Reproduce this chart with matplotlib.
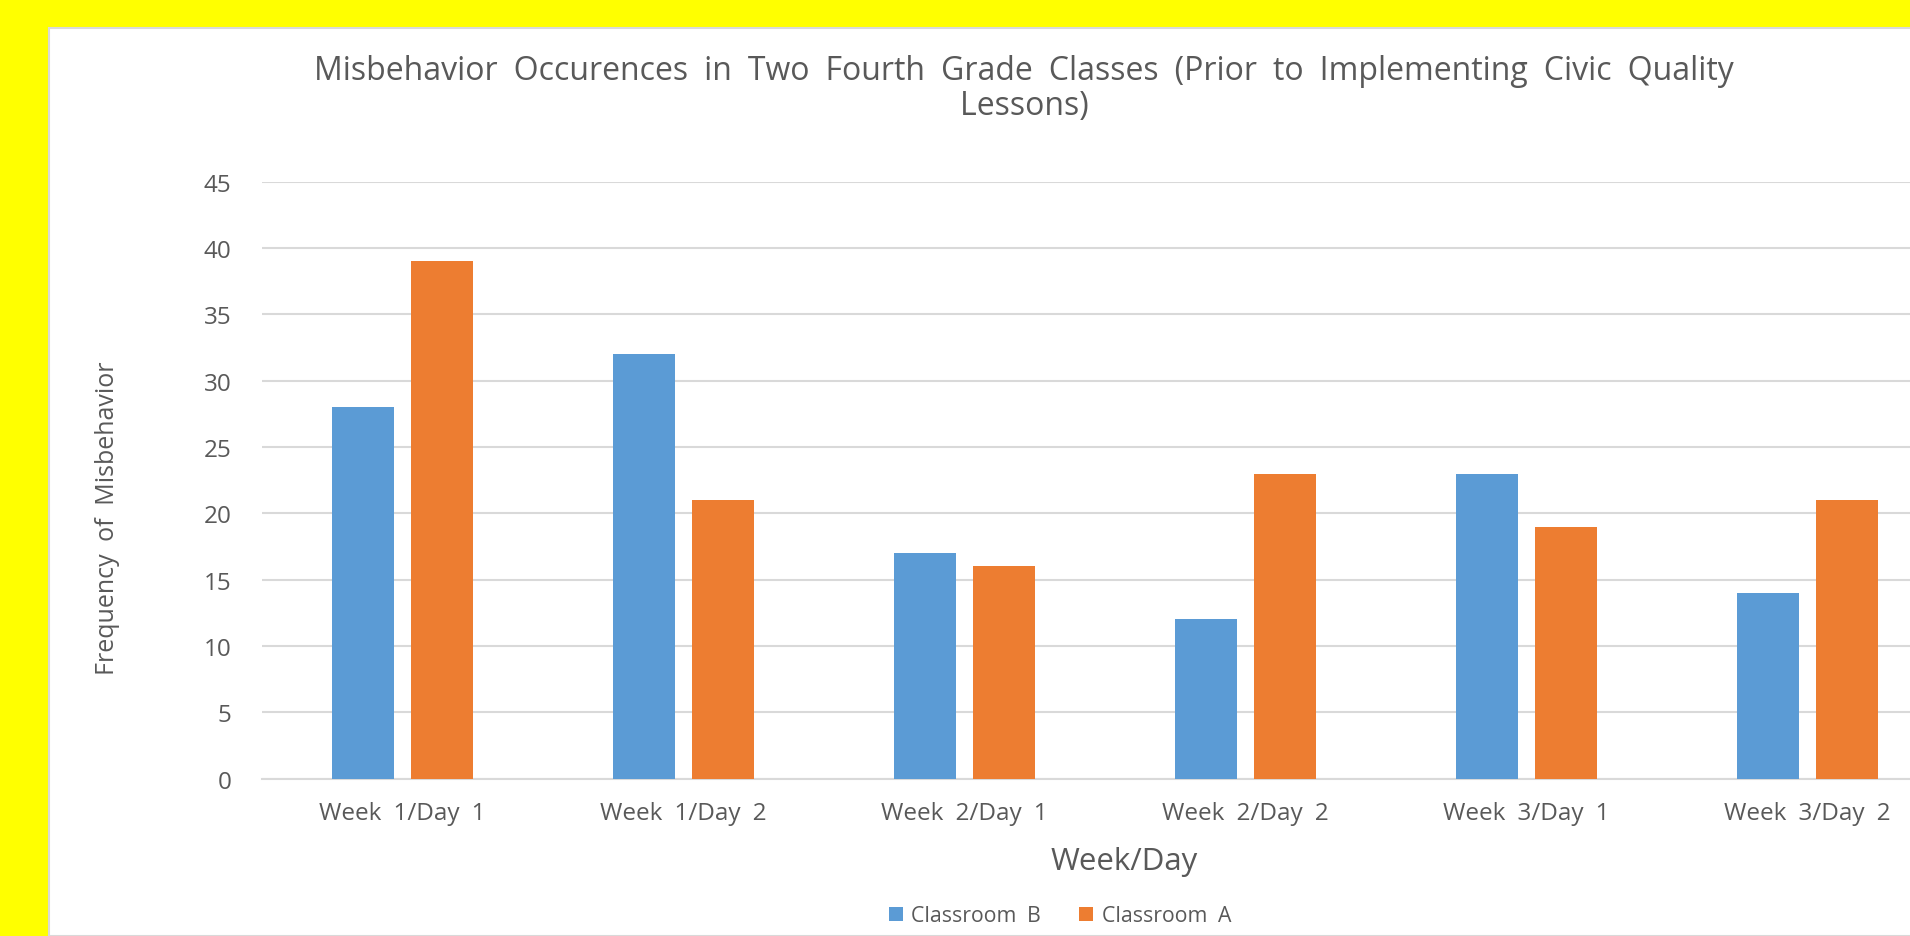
import matplotlib
matplotlib.use("Agg")
import matplotlib.pyplot as plt
from matplotlib.patches import Rectangle
import numpy as np

SP = "\u2002"  # en space, the word gap used throughout the chart text

categories = ["Week\u20021/Day\u20021", "Week\u20021/Day\u20022", "Week\u20022/Day\u20021",
              "Week\u20022/Day\u20022", "Week\u20023/Day\u20021", "Week\u20023/Day\u20022"]
classroom_b = [28, 32, 17, 12, 23, 14]
classroom_a = [39, 21, 16, 23, 19, 21]
y_ticks = [0, 5, 10, 15, 20, 25, 30, 35, 40, 45]

TEXT = "#595959"
GRID = "#d9d9d9"
BLUE = "#5B9BD5"
ORANGE = "#ED7D31"
plt.rcParams["font.family"] = ["Open Sans", "DejaVu Sans"]

W, H = 1910, 937
fig = plt.figure(figsize=(W / 100, H / 100), dpi=100)
fig.patch.set_facecolor("#FFFF00")

# white chart panel running off the right and bottom edges
fig.patches.append(Rectangle((49 / W, 0), 1.0, (H - 29) / H, transform=fig.transFigure,
                             facecolor="white", edgecolor=GRID, linewidth=1.5, zorder=0))

ax = fig.add_axes([262 / W, (H - 779.6) / H, 1686 / W, (779.6 - 182.7) / H])
ax.set_zorder(2)
ax.set_facecolor("none")

x = np.arange(len(categories))
bw, gap = 0.22, 0.06
off = (bw + gap) / 2
ax.bar(x - off, classroom_b, bw, color=BLUE, label="Classroom" + SP + "B", zorder=3)
ax.bar(x + off, classroom_a, bw, color=ORANGE, label="Classroom" + SP + "A", zorder=3)

ax.set_xlim(-0.5, len(categories) - 0.5)
ax.set_ylim(0, 45)
ax.set_yticks(y_ticks)
ax.set_xticks(x)
ax.set_xticklabels(categories)
ax.yaxis.grid(True, color=GRID, linewidth=1.5, zorder=0)
for s in ["top", "right", "left"]:
    ax.spines[s].set_visible(False)
ax.spines["bottom"].set_color(GRID)
ax.spines["bottom"].set_linewidth(1.5)
ax.tick_params(axis="both", length=0, labelsize=17.5, colors=TEXT)
ax.tick_params(axis="y", pad=22)
ax.tick_params(axis="x", pad=16)

title1 = SP.join(["Misbehavior", "Occurences", "in", "Two", "Fourth", "Grade", "Classes",
                  "(Prior", "to", "Implementing", "Civic", "Quality"]) + SP
fig.text(1032 / W, 1 - 71 / H, title1, ha="center", va="center", fontsize=23, color=TEXT)
fig.text(1032 / W, 1 - 107 / H, "Lessons)" + SP, ha="center", va="center",
         fontsize=23, color=TEXT)

fig.text(107 / W, 1 - 518 / H, "Frequency" + SP + "of" + SP + "Misbehavior", rotation=90,
         ha="center", va="center", fontsize=18, color=TEXT)
fig.text(1124 / W, 1 - 862 / H, "Week/Day", ha="center", va="center",
         fontsize=22.5, color=TEXT)

leg = fig.legend(loc="center", bbox_to_anchor=(1060 / W, 1 - 917 / H), ncol=2,
                 frameon=False, fontsize=15.3, handlelength=0.65, handleheight=0.65,
                 columnspacing=1.8, handletextpad=0.4)
for t in leg.get_texts():
    t.set_color(TEXT)

fig.savefig("out.png", dpi=100, facecolor=fig.get_facecolor())
